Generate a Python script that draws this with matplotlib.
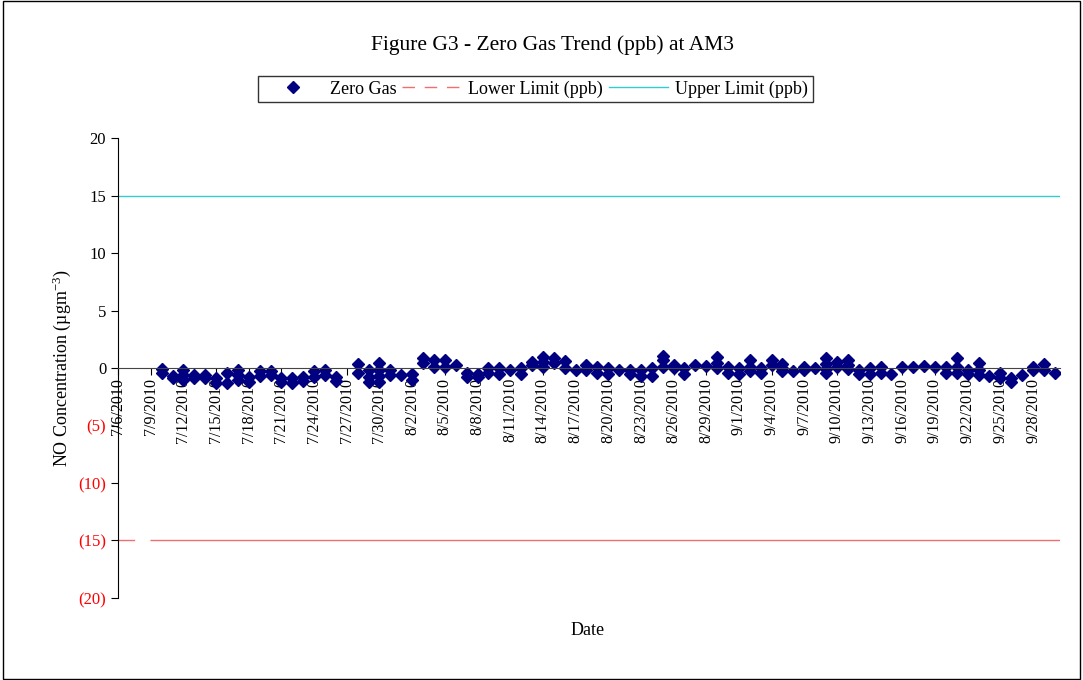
import pandas as pd
import matplotlib
matplotlib.use('Agg')
import matplotlib.pyplot as plt
import matplotlib.dates as mdates
from matplotlib.ticker import FuncFormatter
from matplotlib.patches import Rectangle
from matplotlib.lines import Line2D

# daily zero gas readings (several checks per day)
day_labels = ['2010-07-10', '2010-07-11', '2010-07-12', '2010-07-13', '2010-07-14',
              '2010-07-15', '2010-07-16', '2010-07-17', '2010-07-18', '2010-07-19',
              '2010-07-20', '2010-07-21', '2010-07-22', '2010-07-23', '2010-07-24',
              '2010-07-25', '2010-07-26', '2010-07-28', '2010-07-29', '2010-07-30',
              '2010-07-31', '2010-08-01', '2010-08-02', '2010-08-03', '2010-08-04',
              '2010-08-05', '2010-08-06', '2010-08-07', '2010-08-08', '2010-08-09',
              '2010-08-10', '2010-08-11', '2010-08-12', '2010-08-13', '2010-08-14',
              '2010-08-15', '2010-08-16', '2010-08-17', '2010-08-18', '2010-08-19',
              '2010-08-20', '2010-08-21', '2010-08-22', '2010-08-23', '2010-08-24',
              '2010-08-25', '2010-08-26', '2010-08-27', '2010-08-28', '2010-08-29',
              '2010-08-30', '2010-08-31', '2010-09-01', '2010-09-02', '2010-09-03',
              '2010-09-04', '2010-09-05', '2010-09-06', '2010-09-07', '2010-09-08',
              '2010-09-09', '2010-09-10', '2010-09-11', '2010-09-12', '2010-09-13',
              '2010-09-14', '2010-09-15', '2010-09-16', '2010-09-17', '2010-09-18',
              '2010-09-19', '2010-09-20', '2010-09-21', '2010-09-22', '2010-09-23',
              '2010-09-24', '2010-09-25', '2010-09-26', '2010-09-27', '2010-09-28',
              '2010-09-29', '2010-09-30']
readings = [[-0.1, -0.4], [-0.9, -0.7], [-0.2, -0.6, -1.0], [-0.6, -0.9], [-0.6, -0.9],
            [-0.9, -1.3], [-0.4, -1.3], [-0.2, -0.6, -1.0], [-0.75, -1.2], [-0.3, -0.7],
            [-0.3, -0.6], [-0.9, -1.2], [-0.9, -1.3], [-0.8, -1.1], [-0.3, -0.75],
            [-0.2, -0.6], [-0.75, -1.1], [0.35, -0.45], [-0.2, -0.75, -1.2], [0.45, -0.2, -0.7, -1.2],
            [-0.2, -0.6], [-0.6], [-0.5, -1.0], [0.9, 0.4], [0.7, 0.1],
            [0.7, 0.1], [0.25], [-0.45, -0.75], [-0.5, -0.8], [0.0, -0.45],
            [0.0, -0.5], [-0.2], [0.0, -0.5], [0.55, 0.25], [1.0, 0.55, 0.1],
            [0.9, 0.4], [0.65, 0.0], [-0.2], [0.25, -0.2], [0.1, -0.45],
            [0.0, -0.5], [-0.2], [-0.2, -0.5], [-0.2, -0.7], [0.0, -0.7],
            [1.05, 0.7, 0.1], [0.25, 0.0], [0.0, -0.5], [0.25], [0.2],
            [1.0, 0.4, 0.0], [0.1, -0.45], [0.0, -0.5], [0.7, 0.1, -0.3], [0.0, -0.45],
            [0.7, 0.25], [0.35, 0.0, -0.3], [-0.3], [0.1, -0.2], [0.0],
            [0.85, 0.35, -0.1, -0.45], [0.55, 0.1], [0.7, 0.25, -0.1], [-0.2, -0.5], [0.0, -0.5],
            [0.1, -0.4], [-0.5], [0.05], [0.1], [0.2],
            [0.05], [0.1, -0.45], [0.9, 0.1, -0.4], [-0.2, -0.5], [0.4, -0.2, -0.6],
            [-0.7], [-0.45, -0.9], [-0.9, -1.2], [-0.6], [0.05, -0.2],
            [0.35, -0.2], [-0.4]]
lower_limit = -15
upper_limit = 15
tick_dates = pd.date_range('2010-07-06', '2010-09-28', freq='3D')

x = []
y = []
for d, vals in zip(day_labels, readings):
    for v in vals:
        x.append(pd.Timestamp(d))
        y.append(v)

plt.rcParams['font.family'] = ['Liberation Serif', 'DejaVu Serif']
plt.rcParams['mathtext.default'] = 'regular'

fig = plt.figure(figsize=(10.83, 6.8), dpi=100)
ax = fig.add_axes([0.109, 0.1206, 0.870, 0.6764])

ax.plot(x, y, linestyle='none', marker='D', ms=6.3, color='#000080')
ax.axhline(lower_limit, color='#f07070', lw=1, dashes=(12, 11, 800, 11))
ax.axhline(upper_limit, color='#33cccc', lw=1)

ax.set_ylim(-20, 20)
ax.set_yticks(range(-20, 21, 5))
ax.yaxis.set_major_formatter(FuncFormatter(lambda v, p: f'({abs(int(v))})' if v < 0 else f'{int(v)}'))
ax.set_xlim(pd.Timestamp('2010-07-06'), pd.Timestamp('2010-09-30 12:00'))
ax.set_xticks(tick_dates)
ax.xaxis.set_major_formatter(FuncFormatter(
    lambda v, p: '{d.month}/{d.day}/{d.year}'.format(d=mdates.num2date(v))))

ax.spines['top'].set_visible(False)
ax.spines['right'].set_visible(False)
ax.spines['bottom'].set_position(('data', 0))
ax.spines['bottom'].set_color('#444444')
ax.tick_params(axis='x', direction='out', length=5, labelsize=11.5, rotation=90, pad=2)
ax.tick_params(axis='y', direction='out', length=5, labelsize=12)
for lab in ax.get_xticklabels():
    lab.set_va('top')
for lab, v in zip(ax.get_yticklabels(), ax.get_yticks()):
    if v < 0:
        lab.set_color('red')

ax.set_ylabel('NO Concentration (µgm$^{-3}$)', fontsize=13, labelpad=4)
fig.text(0.543, 0.066, 'Date', ha='center', fontsize=13)
fig.text(0.51, 0.927, 'Figure G3 - Zero Gas Trend (ppb) at AM3', ha='center', fontsize=15.5)

handles = [Line2D([], [], linestyle='none', marker='D', ms=6.3, color='#000080'),
           Line2D([], [], color='#f07070', lw=1, dashes=(9, 7)),
           Line2D([], [], color='#33cccc', lw=1)]
fig.legend(handles, ['Zero Gas', 'Lower Limit (ppb)', 'Upper Limit (ppb)'],
           loc='center', bbox_to_anchor=(0.4945, 0.869), ncol=3, frameon=True,
           fancybox=False, edgecolor='black', fontsize=13, handlelength=3.3,
           columnspacing=0.3, handletextpad=0.4, borderpad=0.25)

fig.patches.append(Rectangle((0.003, 0.001), 0.994, 0.998, transform=fig.transFigure,
                             fill=False, ec='black', lw=1))

fig.savefig('out.png', dpi=100)
